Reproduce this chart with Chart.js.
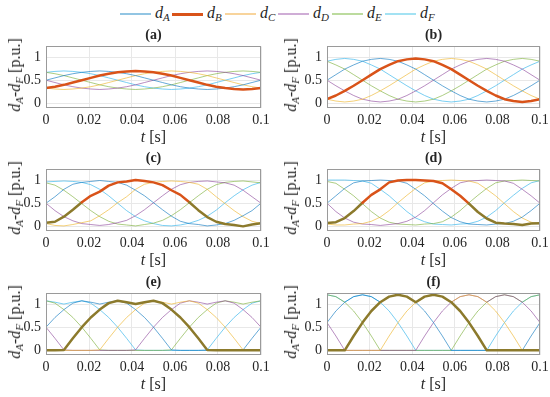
<!DOCTYPE html>
<html><head><meta charset="utf-8">
<script src="https://cdn.jsdelivr.net/npm/chart.js@4.4.0/dist/chart.umd.min.js"></script>
<style>
body{margin:0;background:#fff;width:550px;height:397px;position:relative;overflow:hidden;font-family:"Liberation Serif","Times New Roman",serif;color:#262626}
canvas{position:absolute}
.t{position:absolute;white-space:nowrap;transform:translate(-50%,-50%);line-height:1}
.yl{transform:translate(-50%,-50%) rotate(-90deg);font-size:16px}
.ttl{font-weight:bold;font-size:14px}
.xl{font-size:16px}
sub{font-size:11px;vertical-align:-3px}
.leg{position:absolute;top:4px;height:18px;font-size:16px;white-space:nowrap}
.leg span.ln{position:absolute;left:0;top:9px;width:31px;height:0}
.leg span.tx{position:absolute;left:35px;top:0}
</style></head><body>
<script>
// time axis (s)
const timeS = [0,0.00417,0.00833,0.0125,0.01667,0.02083,0.025,0.02917,0.03333,0.0375,0.04167,0.04583,0.05,0.05417,0.05833,0.0625,0.06667,0.07083,0.075,0.07917,0.08333,0.0875,0.09167,0.09583,0.1];
const seriesNames = ['A','B','C','D','E','F'];
const xTickVals = [0,0.02,0.04,0.06,0.08,0.1];
const xTickLabels = ['0','0.02','0.04','0.06','0.08','0.1'];
const yTickVals = [0,0.5,1];
const yTickLabels = ['0','0.5','1'];
const panelLabels = ['(a)','(b)','(c)','(d)','(e)','(f)'];

// panel (a)
const a_dA = [.50,.55,.60,.64,.67,.69,.70,.69,.67,.64,.60,.55,.50,.45,.40,.36,.33,.31,.30,.31,.33,.36,.40,.45,.50];
const a_dB = [.33,.36,.40,.45,.50,.55,.60,.64,.67,.69,.70,.69,.67,.64,.60,.55,.50,.45,.40,.36,.33,.31,.30,.31,.33];
const a_dC = [.33,.31,.30,.31,.33,.36,.40,.45,.50,.55,.60,.64,.67,.69,.70,.69,.67,.64,.60,.55,.50,.45,.40,.36,.33];
const a_dD = [.50,.45,.40,.36,.33,.31,.30,.31,.33,.36,.40,.45,.50,.55,.60,.64,.67,.69,.70,.69,.67,.64,.60,.55,.50];
const a_dE = [.67,.64,.60,.55,.50,.45,.40,.36,.33,.31,.30,.31,.33,.36,.40,.45,.50,.55,.60,.64,.67,.69,.70,.69,.67];
const a_dF = [.67,.69,.70,.69,.67,.64,.60,.55,.50,.45,.40,.36,.33,.31,.30,.31,.33,.36,.40,.45,.50,.55,.60,.64,.67];
// panel (b)
const b_dA = [.50,.62,.74,.83,.91,.95,.97,.95,.91,.83,.74,.62,.50,.38,.27,.17,.09,.05,.03,.05,.09,.17,.27,.38,.50];
const b_dB = [.09,.17,.27,.38,.50,.62,.74,.83,.91,.95,.97,.95,.91,.83,.74,.62,.50,.38,.27,.17,.09,.05,.03,.05,.09];
const b_dC = [.09,.05,.03,.05,.09,.17,.27,.38,.50,.62,.74,.83,.91,.95,.97,.95,.91,.83,.74,.62,.50,.38,.27,.17,.09];
const b_dD = [.50,.38,.27,.17,.09,.05,.03,.05,.09,.17,.27,.38,.50,.62,.74,.83,.91,.95,.97,.95,.91,.83,.74,.62,.50];
const b_dE = [.91,.83,.74,.62,.50,.38,.27,.17,.09,.05,.03,.05,.09,.17,.27,.38,.50,.62,.74,.83,.91,.95,.97,.95,.91];
const b_dF = [.91,.95,.97,.95,.91,.83,.74,.62,.50,.38,.27,.17,.09,.05,.03,.05,.09,.17,.27,.38,.50,.62,.74,.83,.91];
// panel (c)
const c_dA = [.50,.64,.80,.91,.95,.97,.99,.97,.95,.89,.78,.66,.51,.36,.22,.11,.06,.04,.01,.03,.06,.13,.23,.34,.50];
const c_dB = [.08,.10,.21,.36,.52,.66,.75,.88,.95,.97,1.0,.98,.95,.89,.78,.68,.52,.35,.20,.10,.05,.03,.00,.04,.07];
const c_dC = [.06,.02,.01,.04,.08,.12,.23,.36,.51,.64,.80,.91,.95,.97,.98,.97,.95,.91,.80,.64,.49,.34,.21,.11,.06];
const c_dD = [.50,.34,.21,.12,.06,.04,.02,.04,.08,.13,.23,.36,.51,.66,.80,.90,.95,.97,.98,.96,.94,.89,.78,.64,.50];
const c_dE = [.94,.89,.78,.64,.49,.34,.21,.11,.05,.03,.01,.04,.07,.13,.23,.36,.51,.66,.80,.90,.95,.97,.98,.96,.94];
const c_dF = [.96,.97,.98,.97,.95,.90,.80,.66,.50,.34,.21,.12,.06,.02,.01,.03,.07,.13,.22,.35,.51,.66,.79,.89,.95];
// panel (d)
const d_dA = [.50,.66,.82,.94,.98,.99,1.0,.99,.98,.93,.80,.66,.49,.33,.19,.10,.05,.04,.03,.05,.06,.11,.20,.34,.50];
const d_dB = [.07,.09,.18,.33,.51,.68,.80,.95,.99,1.0,1.0,.99,.98,.93,.80,.66,.49,.31,.17,.08,.06,.05,.03,.06,.07];
const d_dC = [.05,.03,.03,.05,.06,.11,.20,.34,.51,.67,.82,.94,.98,.99,1.0,.99,.98,.93,.80,.66,.49,.32,.18,.09,.05];
const d_dD = [.50,.32,.18,.09,.05,.04,.02,.04,.06,.11,.20,.34,.51,.68,.82,.94,.98,.99,1.0,.99,.98,.93,.80,.66,.50];
const d_dE = [.97,.93,.80,.66,.49,.32,.18,.09,.05,.04,.03,.05,.06,.10,.20,.34,.51,.67,.82,.94,.98,.99,1.0,.99,.98];
const d_dF = [1.0,1.0,1.0,.99,.98,.93,.80,.66,.49,.32,.18,.10,.05,.04,.03,.05,.06,.11,.20,.34,.51,.67,.82,.94,.99];
// panel (e)
const e_dA = [.50,.71,.88,1.02,1.07,1.04,1.00,1.04,1.07,1.02,.88,.71,.50,.26,.01,0,0,0,0,0,0,0,.01,.26,.50];
const e_dB = [0,0,.01,.26,.50,.71,.88,1.02,1.07,1.04,1.00,1.04,1.07,1.02,.88,.71,.50,.26,.01,0,0,0,0,0,0];
const e_dC = [0,0,0,0,0,0,.01,.26,.50,.71,.88,1.02,1.07,1.04,1.00,1.04,1.07,1.02,.88,.71,.50,.26,.01,0,0];
const e_dD = [.50,.26,.01,0,0,0,0,0,0,0,.01,.26,.50,.71,.88,1.02,1.07,1.04,1.00,1.04,1.07,1.02,.88,.71,.50];
const e_dE = [1.07,1.02,.88,.71,.50,.26,.01,0,0,0,0,0,0,0,.01,.26,.50,.71,.88,1.02,1.07,1.04,1.00,1.04,1.07];
const e_dF = [1.07,1.04,1.00,1.04,1.07,1.02,.88,.71,.50,.26,.01,0,0,0,0,0,0,0,.01,.26,.50,.71,.88,1.02,1.07];
// panel (f)
const f_dA = [.60,.85,1.04,1.16,1.20,1.16,1.04,1.16,1.20,1.16,1.04,.85,.60,.31,0,0,0,0,0,0,0,0,0,.31,.60];
const f_dB = [0,0,0,.31,.60,.85,1.04,1.16,1.20,1.16,1.04,1.16,1.20,1.16,1.04,.85,.60,.31,0,0,0,0,0,0,0];
const f_dC = [0,0,0,0,0,0,0,.31,.60,.85,1.04,1.16,1.20,1.16,1.04,1.16,1.20,1.16,1.04,.85,.60,.31,0,0,0];
const f_dD = [.60,.31,0,0,0,0,0,0,0,0,0,.31,.60,.85,1.04,1.16,1.20,1.16,1.04,1.16,1.20,1.16,1.04,.85,.60];
const f_dE = [1.20,1.16,1.04,.85,.60,.31,0,0,0,0,0,0,0,0,0,.31,.60,.85,1.04,1.16,1.20,1.16,1.04,1.16,1.20];
const f_dF = [1.20,1.16,1.04,1.16,1.20,1.16,1.04,.85,.60,.31,0,0,0,0,0,0,0,0,0,.31,.60,.85,1.04,1.16,1.20];

const panels = [
  [a_dA,a_dB,a_dC,a_dD,a_dE,a_dF],
  [b_dA,b_dB,b_dC,b_dD,b_dE,b_dF],
  [c_dA,c_dB,c_dC,c_dD,c_dE,c_dF],
  [d_dA,d_dB,d_dC,d_dD,d_dE,d_dF],
  [e_dA,e_dB,e_dC,e_dD,e_dE,e_dF],
  [f_dA,f_dB,f_dC,f_dD,f_dE,f_dF]
];

const colors = ['rgba(0,114,189,0.6)','#D95319','rgba(237,177,32,0.6)','rgba(126,47,142,0.55)','rgba(119,172,48,0.6)','rgba(77,190,238,0.75)'];
const legColors = ['#92c5e3','#D95319','#f8d49c','#cfadd6','#bcdb9e','#a3e2f3'];
const olive = '#8c7a2c';
const bMode = ['red','red','mix','mix','olive','olive'];

const cols = [{L:46,W:215,yl:16},{L:327,W:213,yl:292}];
const rows = [43,166,290];
const H = 65;
const FONT = "'Liberation Serif', 'Times New Roman', serif";

function addText(html, cls, x, y){
  const d = document.createElement('div');
  d.className = 't ' + cls;
  d.innerHTML = html;
  d.style.left = x + 'px'; d.style.top = y + 'px';
  document.body.appendChild(d);
}

// legend
const legX = [120,172,225,278,332,385];
seriesNames.forEach((n,i)=>{
  const d = document.createElement('div');
  d.className = 'leg';
  d.style.left = legX[i] + 'px';
  d.innerHTML = '<span class="ln" style="border-top:'+(i===1?3:2)+'px solid '+legColors[i]+'"></span><span class="tx"><i>d</i><sub><i>'+n+'</i></sub></span>';
  document.body.appendChild(d);
});

const boxPlugin = {
  id:'box',
  afterDraw(chart){
    const a = chart.chartArea, c = chart.ctx;
    c.save(); c.strokeStyle = '#9a9a9a'; c.lineWidth = 1;
    c.strokeRect(Math.round(a.left)+0.5, Math.round(a.top)+0.5, Math.round(a.right-a.left)-1, Math.round(a.bottom-a.top)-1);
    c.restore();
  }
};

panels.forEach((series, pi)=>{
  const col = cols[pi%2], T = rows[Math.floor(pi/2)];
  const L = col.L, W = col.W;
  const cv = document.createElement('canvas');
  cv.width = W + 54; cv.height = H + 32;
  cv.style.left = (L-40)+'px'; cv.style.top = (T-10)+'px';
  cv.style.width = cv.width+'px'; cv.style.height = cv.height+'px';
  document.body.appendChild(cv);

  addText(panelLabels[pi], 'ttl', L + W/2, T - 8);
  addText('<i>t</i> [s]', 'xl', L + W/2, T + H + 29);
  addText('<i>d</i><sub><i>A</i></sub>-<i>d</i><sub><i>F</i></sub> [p.u.]', 'yl', col.yl, T + H/2 - 1);

  const datasets = series.map((vals, si)=>{
    const ds = {
      label: 'd'+seriesNames[si],
      data: vals.map((v,k)=>({x: timeS[k], y: v})),
      borderColor: colors[si],
      borderWidth: si===1 ? 2.5 : 1,
      pointRadius: 0,
      tension: 0,
      fill: false,
      order: si===1 ? -1 : si,
      borderJoinStyle: 'round',
      borderCapStyle: 'round'
    };
    if (si===1){
      if (bMode[pi]==='olive') ds.borderColor = olive;
      else if (bMode[pi]==='mix'){
        ds.segment = { borderColor: ctx => ((ctx.p0.parsed.y + ctx.p1.parsed.y)/2 < 0.5 ? olive : '#D95319') };
      }
    }
    return ds;
  });

  new Chart(cv, {
    type: 'line',
    data: { datasets },
    plugins: [boxPlugin],
    options: {
      responsive: false, animation: false, devicePixelRatio: 1,
      layout: { padding: { left: 0, top: 10, right: 14, bottom: 0 } },
      plugins: { legend: { display: false }, tooltip: { enabled: false }, title: { display: false } },
      scales: {
        x: {
          type: 'linear', min: 0, max: 0.1,
          afterBuildTicks: s => { s.ticks = xTickVals.map(v=>({value:v})); },
          afterFit: s => { s.height = 22; },
          grid: { color: '#e8e8e8', drawTicks: false },
          border: { display: false },
          ticks: { padding: 4, color: '#262626', font: { family: FONT, size: 14 }, maxRotation: 0,
                   callback: (v, i) => xTickLabels[i] }
        },
        y: {
          type: 'linear', min: -0.1, max: 1.23,
          afterBuildTicks: s => { s.ticks = yTickVals.map(v=>({value:v})); },
          afterFit: s => { s.width = 40; },
          grid: { color: '#e8e8e8', drawTicks: false },
          border: { display: false },
          ticks: { padding: 5, color: '#262626', font: { family: FONT, size: 14 },
                   callback: (v, i) => yTickLabels[i] }
        }
      }
    }
  });
});
</script>
</body></html>
